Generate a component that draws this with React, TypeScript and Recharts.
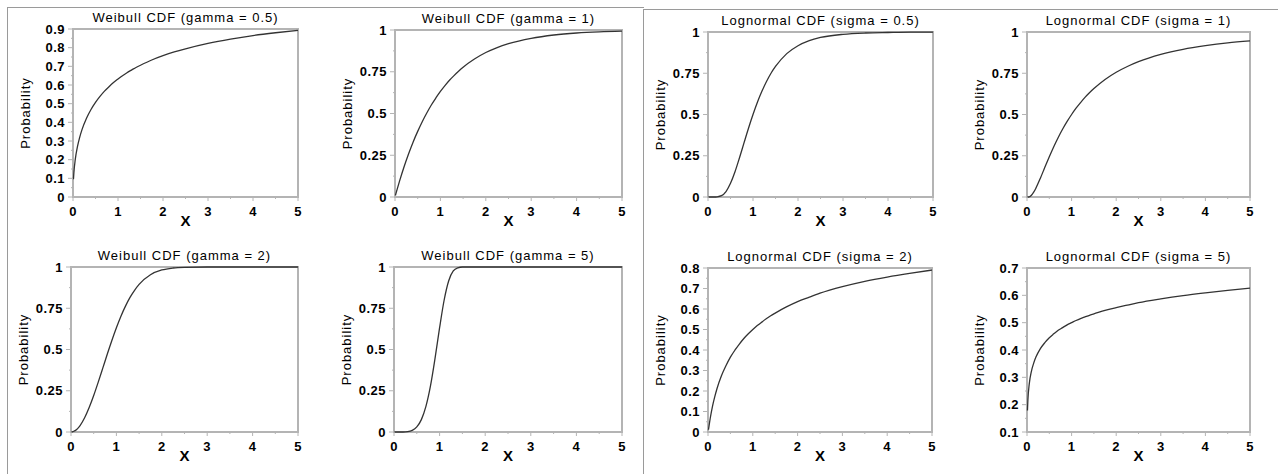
import { LineChart, Line, XAxis, YAxis, ReferenceArea } from 'recharts'

// x grid (shared by all eight panels)
const xValues = [0.01, 0.02, 0.05, 0.1, 0.15, 0.2, 0.3, 0.4, 0.5, 0.6, 0.7, 0.8, 0.9, 1, 1.1, 1.2, 1.3, 1.4, 1.5, 1.75, 2, 2.25, 2.5, 3, 3.5, 4, 4.5, 5]

const weibull05 = [0.095, 0.132, 0.2, 0.271, 0.321, 0.361, 0.422, 0.469, 0.507, 0.539, 0.567, 0.591, 0.613, 0.632, 0.65, 0.666, 0.68, 0.694, 0.706, 0.734, 0.757, 0.777, 0.794, 0.823, 0.846, 0.865, 0.88, 0.893]
const weibull1 = [0.01, 0.02, 0.049, 0.095, 0.139, 0.181, 0.259, 0.33, 0.393, 0.451, 0.503, 0.551, 0.593, 0.632, 0.667, 0.699, 0.727, 0.753, 0.777, 0.826, 0.865, 0.895, 0.918, 0.95, 0.97, 0.982, 0.989, 0.993]
const weibull2 = [0, 0, 0.003, 0.01, 0.022, 0.039, 0.086, 0.148, 0.221, 0.302, 0.387, 0.473, 0.555, 0.632, 0.702, 0.763, 0.816, 0.859, 0.895, 0.953, 0.982, 0.994, 0.998, 1, 1, 1, 1, 1]
const weibull5 = [0, 0, 0, 0, 0, 0, 0.002, 0.01, 0.031, 0.075, 0.155, 0.279, 0.446, 0.632, 0.8, 0.917, 0.976, 0.995, 1, 1, 1, 1, 1, 1, 1, 1, 1, 1]
const lognorm05 = [0, 0, 0, 0, 0, 0.001, 0.008, 0.033, 0.083, 0.153, 0.238, 0.328, 0.417, 0.5, 0.576, 0.642, 0.7, 0.75, 0.791, 0.869, 0.917, 0.948, 0.967, 0.986, 0.994, 0.997, 0.999, 0.999]
const lognorm1 = [0, 0, 0.001, 0.011, 0.029, 0.054, 0.114, 0.18, 0.244, 0.305, 0.361, 0.412, 0.458, 0.5, 0.538, 0.572, 0.604, 0.632, 0.657, 0.712, 0.756, 0.791, 0.82, 0.864, 0.895, 0.917, 0.934, 0.946]
const lognorm2 = [0.011, 0.025, 0.067, 0.125, 0.171, 0.211, 0.274, 0.323, 0.365, 0.399, 0.429, 0.456, 0.479, 0.5, 0.519, 0.536, 0.552, 0.567, 0.58, 0.61, 0.636, 0.657, 0.677, 0.709, 0.735, 0.756, 0.774, 0.79]
const lognorm5 = [0.179, 0.217, 0.275, 0.323, 0.352, 0.374, 0.405, 0.427, 0.445, 0.459, 0.472, 0.482, 0.492, 0.5, 0.508, 0.515, 0.521, 0.527, 0.532, 0.545, 0.555, 0.564, 0.573, 0.587, 0.599, 0.609, 0.618, 0.626]

const xMajor = [0, 1, 2, 3, 4, 5]
const xMinor = [0.5, 1.5, 2.5, 3.5, 4.5]

const yTenthsTo09 = [0, 0.1, 0.2, 0.3, 0.4, 0.5, 0.6, 0.7, 0.8, 0.9]
const yTenthsTo09Minor = [0.05, 0.15, 0.25, 0.35, 0.45, 0.55, 0.65, 0.75, 0.85]
const yQuarters = [0, 0.25, 0.5, 0.75, 1]
const yQuartersMinor = [0.125, 0.375, 0.625, 0.875]
const yTenthsTo08 = [0, 0.1, 0.2, 0.3, 0.4, 0.5, 0.6, 0.7, 0.8]
const yTenthsTo08Minor = [0.05, 0.15, 0.25, 0.35, 0.45, 0.55, 0.65, 0.75]
const yFrom01 = [0.1, 0.2, 0.3, 0.4, 0.5, 0.6, 0.7]
const yFrom01Minor = [0.15, 0.25, 0.35, 0.45, 0.55, 0.65]

const titles = [
  'Weibull CDF (gamma = 0.5)',
  'Weibull CDF (gamma = 1)',
  'Lognormal CDF (sigma = 0.5)',
  'Lognormal CDF (sigma = 1)',
  'Weibull CDF (gamma = 2)',
  'Weibull CDF (gamma = 5)',
  'Lognormal CDF (sigma = 2)',
  'Lognormal CDF (sigma = 5)',
]

const FONT = '"Liberation Sans", Arial, Helvetica, sans-serif'
const FRAME = '#b4b4b4'
const CURVE = '#333333'

const PAD_L = 60
const PAD_T = 26
const PAD_R = 12
const PAD_B = 40

const near = (list: number[], v: number) => list.some((t) => Math.abs(t - v) < 1e-9)

const XTick = (props: any) => {
  const { x, y, payload, majors } = props
  const major = near(majors, payload.value)
  // y is plot bottom + tickSize + tickMargin
  const top = y - 8
  return (
    <g>
      <line x1={x} x2={x} y1={top} y2={top + (major ? 4 : 2)} stroke={FRAME} strokeWidth={1} />
      {major && (
        <text x={x} y={y + 11} textAnchor='middle' fontFamily={FONT} fontSize={13} fontWeight='bold' letterSpacing={0.5} fill='#000'>
          {payload.value}
        </text>
      )}
    </g>
  )
}

const YTick = (props: any) => {
  const { x, y, payload, majors } = props
  const major = near(majors, payload.value)
  const right = x + 8
  return (
    <g>
      <line x1={right - (major ? 5 : 2)} x2={right} y1={y} y2={y} stroke={FRAME} strokeWidth={1} />
      {major && (
        <text x={x} y={y} dy='0.36em' textAnchor='end' fontFamily={FONT} fontSize={13} fontWeight='bold' letterSpacing={0.5} fill='#000'>
          {payload.value}
        </text>
      )}
    </g>
  )
}

const SubChart = ({
  title,
  values,
  domain,
  majors,
  minors,
  box,
}: {
  title: string
  values: number[]
  domain: [number, number]
  majors: number[]
  minors: number[]
  box: { x: number; y: number; w: number; h: number }
}) => {
  const data = xValues.map((x, i) => ({ x, p: values[i] }))
  const yTicks = [...majors, ...minors].sort((a, b) => a - b)
  const xTicks = [...xMajor, ...xMinor].sort((a, b) => a - b)
  return (
    <div style={{ position: 'absolute', left: box.x - PAD_L, top: box.y - PAD_T }}>
      <div
        style={{
          position: 'absolute',
          left: PAD_L,
          top: PAD_T - 18,
          width: box.w,
          textAlign: 'center',
          fontFamily: FONT,
          fontSize: 13,
          lineHeight: '13px',
          letterSpacing: 1,
          whiteSpace: 'nowrap',
          color: '#000',
        }}
      >
        {title}
      </div>
      <LineChart
        width={box.w + PAD_L + PAD_R}
        height={box.h + PAD_T + PAD_B}
        data={data}
        margin={{ top: PAD_T, right: PAD_R, bottom: 0, left: 0 }}
      >
        <XAxis
          type='number'
          dataKey='x'
          domain={[0, 5]}
          ticks={xTicks}
          interval={0}
          height={PAD_B}
          axisLine={false}
          tickLine={false}
          tickSize={5}
          tickMargin={3}
          tick={<XTick majors={xMajor} />}
          label={{ value: 'X', position: 'center', dy: 4, fontFamily: FONT, fontSize: 15, fontWeight: 'bold', fill: '#000' }}
        />
        <YAxis
          type='number'
          domain={domain}
          ticks={yTicks}
          interval={0}
          width={PAD_L}
          axisLine={false}
          tickLine={false}
          tickSize={5}
          tickMargin={3}
          tick={<YTick majors={majors} />}
          label={{ value: 'Probability', angle: -90, position: 'center', dx: -18, fontFamily: FONT, fontSize: 13, letterSpacing: 1, fill: '#000' }}
        />
        <ReferenceArea x1={0} x2={5} y1={domain[0]} y2={domain[1]} fill='none' stroke={FRAME} strokeWidth={2} ifOverflow='visible' />
        <Line
          type='monotone'
          dataKey='p'
          stroke={CURVE}
          strokeWidth={1.3}
          dot={false}
          isAnimationActive={false}
        />
      </LineChart>
    </div>
  )
}

const boxes = [
  { x: 73, y: 29, w: 225, h: 168 },
  { x: 395, y: 30, w: 227, h: 167 },
  { x: 708, y: 32, w: 225, h: 165 },
  { x: 1027, y: 32, w: 223, h: 165 },
  { x: 71, y: 267, w: 227, h: 165 },
  { x: 394, y: 267, w: 228, h: 165 },
  { x: 708, y: 268, w: 224, h: 164 },
  { x: 1027, y: 268, w: 223, h: 164 },
]

const series = [weibull05, weibull1, lognorm05, lognorm1, weibull2, weibull5, lognorm2, lognorm5]
const domains: [number, number][] = [[0, 0.9], [0, 1], [0, 1], [0, 1], [0, 1], [0, 1], [0, 0.8], [0.1, 0.7]]
const majorTicks = [yTenthsTo09, yQuarters, yQuarters, yQuarters, yQuarters, yQuarters, yTenthsTo08, yFrom01]
const minorTicks = [yTenthsTo09Minor, yQuartersMinor, yQuartersMinor, yQuartersMinor, yQuartersMinor, yQuartersMinor, yTenthsTo08Minor, yFrom01Minor]

export default function App() {
  return (
    <div style={{ position: 'absolute', left: 0, top: 0, width: 1278, height: 474, background: '#fff', overflow: 'hidden' }}>
      {/* panel frames */}
      <div style={{ position: 'absolute', left: 7, top: 7, width: 636, height: 480, borderLeft: '1px solid #9a9a9a', borderTop: '1px solid #9a9a9a' }} />
      <div style={{ position: 'absolute', left: 643, top: 9, width: 640, height: 480, borderLeft: '1px solid #9a9a9a', borderTop: '1px solid #9a9a9a' }} />
      {boxes.map((box, i) => (
        <SubChart
          key={titles[i]}
          title={titles[i]}
          values={series[i]}
          domain={domains[i]}
          majors={majorTicks[i]}
          minors={minorTicks[i]}
          box={box}
        />
      ))}
    </div>
  )
}
